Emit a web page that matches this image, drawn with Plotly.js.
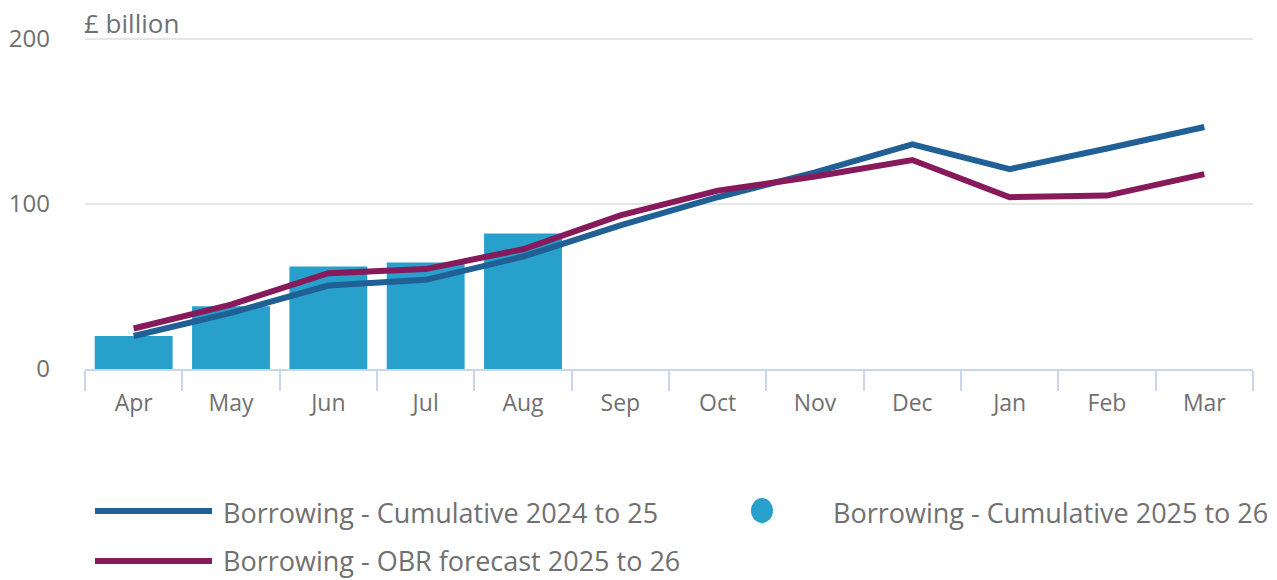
<!DOCTYPE html>
<html>
<head>
<meta charset="utf-8">
<script src="https://cdn.plot.ly/plotly-3.0.1.min.js"></script>
<style>
  html, body { margin: 0; padding: 0; background: #fff; }
  #chart { width: 1277px; height: 580px; }
</style>
</head>
<body>
<div id="chart"></div>
<script>
const months = ["Apr", "May", "Jun", "Jul", "Aug", "Sep", "Oct", "Nov", "Dec", "Jan", "Feb", "Mar"];
const cumulative2526 = [20, 38, 62, 64.5, 82];
const cumulative2425 = [20, 34, 50.5, 54, 68, 87, 104, 119, 136, 121, 133.5, 146.5];
const obrForecast2526 = [24.5, 39, 58, 60.5, 72.5, 93, 108, 116.5, 126.5, 104, 105, 118];
const seriesNames = ["Borrowing - Cumulative 2024 to 25", "Borrowing - Cumulative 2025 to 26", "Borrowing - OBR forecast 2025 to 26"];
const yTitle = "£ billion";
const yTicks = [0, 100, 200];

const FONT = "Open Sans, sans-serif";
const TXT = "#707070";
const C_BAR = "#27a0cc", C_BLUE = "#206095", C_PURPLE = "#871a5b";

const traces = [
  { type: "bar", x: months.slice(0, cumulative2526.length), y: cumulative2526, name: seriesNames[1],
    marker: { color: C_BAR, line: { width: 0 } }, hoverinfo: "skip" },
  { type: "scatter", mode: "lines", x: months, y: cumulative2425, name: seriesNames[0],
    line: { color: C_BLUE, width: 6 }, hoverinfo: "skip" },
  { type: "scatter", mode: "lines", x: months, y: obrForecast2526, name: seriesNames[2],
    line: { color: C_PURPLE, width: 6 }, hoverinfo: "skip" }
];

// plot area in pixels
const L = 85, W = 1168, T = 37, H = 332;
const px = x => (x - L) / W;
const py = y => 1 - (y - T) / H;

// custom legend
const shapes = [
  { type: "line", xref: "paper", yref: "paper", x0: px(95), x1: px(212), y0: py(511), y1: py(511), line: { color: C_BLUE, width: 6 } },
  { type: "line", xref: "paper", yref: "paper", x0: px(95), x1: px(212), y0: py(561), y1: py(561), line: { color: C_PURPLE, width: 6 } },
  { type: "circle", xref: "paper", yref: "paper", x0: px(751), x1: px(773), y0: py(498), y1: py(523), fillcolor: C_BAR, line: { width: 0 } }
];
const LEG = 27;
const annotations = [
  { text: yTitle, xref: "paper", yref: "paper", x: px(82), y: py(23), xanchor: "left", yanchor: "middle", showarrow: false,
    font: { family: FONT, size: 26, color: TXT } },
  { text: seriesNames[0], xref: "paper", yref: "paper", x: px(221), y: py(512), xanchor: "left", yanchor: "middle", showarrow: false,
    font: { family: FONT, size: LEG, color: TXT } },
  { text: seriesNames[1], xref: "paper", yref: "paper", x: px(831), y: py(512), xanchor: "left", yanchor: "middle", showarrow: false,
    font: { family: FONT, size: LEG, color: TXT } },
  { text: seriesNames[2], xref: "paper", yref: "paper", x: px(221), y: py(560), xanchor: "left", yanchor: "middle", showarrow: false,
    font: { family: FONT, size: LEG, color: TXT } }
];

const layout = {
  width: 1277, height: 580,
  margin: { l: L, r: 1277 - L - W, t: T, b: 580 - T - H, pad: 0 },
  paper_bgcolor: "#ffffff", plot_bgcolor: "#ffffff",
  showlegend: false,
  bargap: 0.2,
  font: { family: FONT, color: TXT },
  xaxis: {
    type: "category", categoryorder: "array", categoryarray: months,
    range: [-0.5, 11.5],
    showline: true, linecolor: "#ccd6eb", linewidth: 2,
    ticks: "outside", tickson: "boundaries", ticklen: 20, tickcolor: "#ccd6eb", tickwidth: 2,
    ticklabelstandoff: 12,
    showgrid: false, zeroline: false,
    tickfont: { family: FONT, size: 23, color: TXT }
  },
  yaxis: {
    range: [0, 201], tickvals: yTicks, ticktext: yTicks.map(String),
    showgrid: true, gridcolor: "#e6e6e6", gridwidth: 2,
    zeroline: false, showline: false, ticks: "",
    ticklabelstandoff: 34,
    tickfont: { family: FONT, size: 24, color: TXT }
  },
  shapes: shapes,
  annotations: annotations
};

Plotly.newPlot("chart", traces, layout, { staticPlot: true, displayModeBar: false });
</script>
</body>
</html>
